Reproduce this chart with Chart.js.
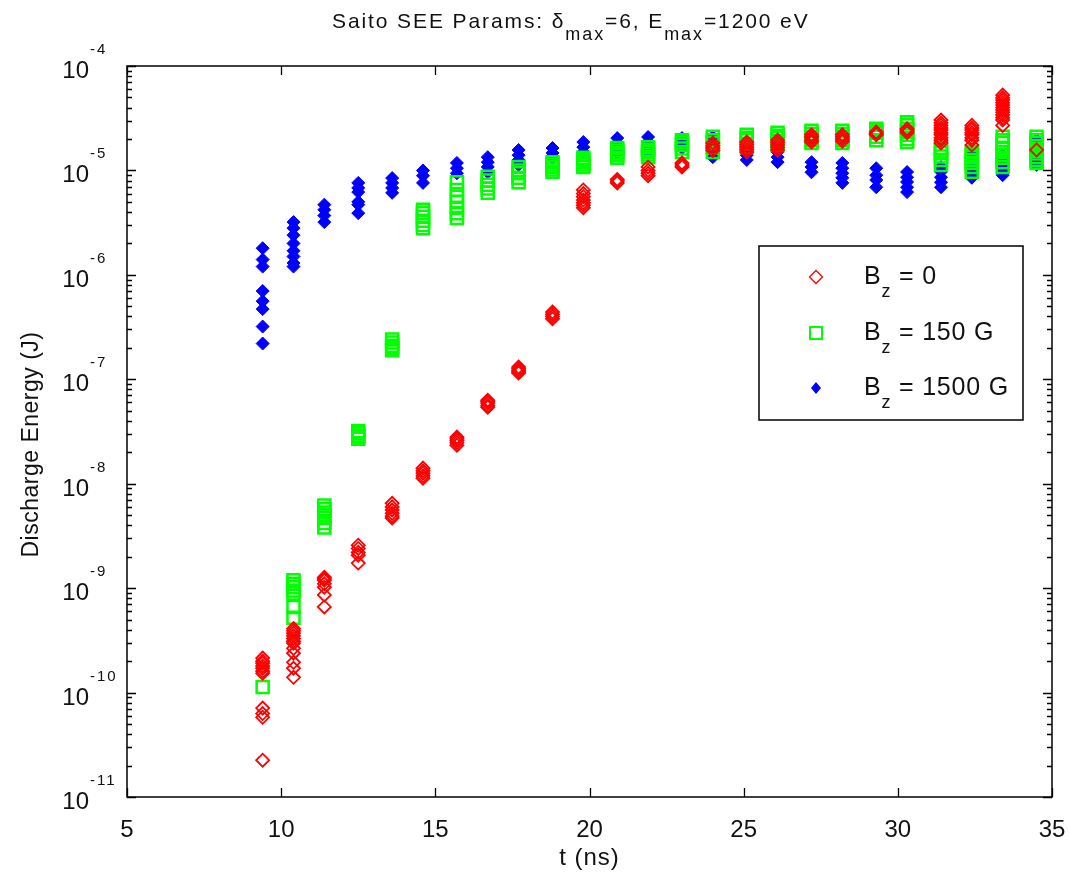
<!DOCTYPE html>
<html>
<head>
<meta charset="utf-8">
<script src="https://cdn.jsdelivr.net/npm/chart.js@4.4.0/dist/chart.umd.min.js"></script>
<style>
  html, body { margin: 0; padding: 0; background: #fff; }
  #wrap { position: relative; width: 1070px; height: 882px; }
</style>
</head>
<body>
<div id="wrap"><canvas id="chart"></canvas></div>
<script>
// t (ns) of each sample column
const times = [9.4, 10.4, 11.4, 12.5, 13.6, 14.6, 15.7, 16.7, 17.7, 18.8, 19.8, 20.9, 21.9,
               23.0, 24.0, 25.1, 26.1, 27.2, 28.2, 29.3, 30.3, 31.4, 32.4, 33.4, 34.5];

// discharge energy (J), one list of runs per time column
const energyBz0 = [
  [2.14e-10, 2.0e-10, 1.91e-10, 1.8e-10, 1.71e-10, 1.6e-10, 1.53e-10, 7.1e-11, 6.3e-11, 5.8e-11, 2.25e-11],
  [4.1e-10, 3.9e-10, 3.7e-10, 3.5e-10, 3.3e-10, 3.1e-10, 2.97e-10, 2.65e-10, 2.38e-10, 1.95e-10, 1.71e-10, 1.4e-10],
  [1.27e-9, 1.23e-9, 1.19e-9, 1.1e-9, 1.02e-9, 8.6e-10, 6.6e-10],
  [2.58e-9, 2.4e-9, 2.2e-9, 2.07e-9, 1.74e-9],
  [6.5e-9, 6.0e-9, 5.6e-9, 5.2e-9, 4.9e-9, 4.7e-9],
  [1.41e-8, 1.33e-8, 1.26e-8, 1.19e-8, 1.13e-8],
  [2.8e-8, 2.7e-8, 2.6e-8, 2.47e-8, 2.34e-8],
  [6.3e-8, 6.1e-8, 5.9e-8, 5.6e-8, 5.4e-8],
  [1.31e-7, 1.26e-7, 1.22e-7, 1.18e-7, 1.15e-7],
  [4.4e-7, 4.2e-7, 4.0e-7, 3.8e-7],
  [6.5e-6, 6.0e-6, 5.6e-6, 5.2e-6, 4.9e-6, 4.65e-6, 4.4e-6],
  [8.2e-6, 7.9e-6, 7.6e-6],
  [1.08e-5, 1.0e-5, 9.4e-6, 8.9e-6],
  [1.18e-5, 1.13e-5, 1.08e-5],
  [1.83e-5, 1.72e-5, 1.64e-5, 1.55e-5],
  [1.87e-5, 1.77e-5, 1.67e-5, 1.58e-5, 1.5e-5],
  [1.95e-5, 1.85e-5, 1.75e-5, 1.66e-5, 1.57e-5],
  [2.2e-5, 2.1e-5, 2.05e-5, 1.95e-5, 1.87e-5],
  [2.2e-5, 2.1e-5, 2.0e-5, 1.9e-5],
  [2.33e-5, 2.25e-5, 2.2e-5],
  [2.5e-5, 2.4e-5, 2.3e-5],
  [3.04e-5, 2.85e-5, 2.7e-5, 2.55e-5, 2.44e-5, 2.3e-5, 2.2e-5, 2.05e-5, 1.95e-5, 1.83e-5],
  [2.7e-5, 2.55e-5, 2.44e-5, 2.3e-5, 2.2e-5, 2.05e-5, 1.95e-5, 1.75e-5],
  [5.27e-5, 4.95e-5, 4.72e-5, 4.45e-5, 4.23e-5, 4.0e-5, 3.8e-5, 3.6e-5, 3.4e-5, 3.2e-5, 3.04e-5, 2.7e-5],
  [1.57e-5]
];
const energyBz150 = [
  [1.13e-10],
  [1.19e-9, 1.1e-9, 1.02e-9, 9.5e-10, 8.9e-10, 6.6e-10, 5.2e-10],
  [6.2e-9, 5.7e-9, 5.3e-9, 5.0e-9, 4.7e-9, 4.2e-9, 3.8e-9],
  [3.2e-8, 3.05e-8, 2.9e-8, 2.8e-8, 2.7e-8],
  [2.4e-7, 2.25e-7, 2.1e-7, 2.0e-7, 1.9e-7],
  [4.2e-6, 3.9e-6, 3.6e-6, 3.3e-6, 3.0e-6, 2.8e-6],
  [7.7e-6, 6.5e-6, 5.6e-6, 5.0e-6, 4.4e-6, 3.9e-6, 3.5e-6],
  [8.7e-6, 8.0e-6, 7.3e-6, 6.7e-6, 6.1e-6],
  [1.08e-5, 1.0e-5, 9.4e-6, 8.5e-6, 7.7e-6],
  [1.2e-5, 1.14e-5, 1.08e-5, 1.02e-5, 9.7e-6],
  [1.32e-5, 1.26e-5, 1.2e-5, 1.14e-5, 1.08e-5],
  [1.64e-5, 1.55e-5, 1.47e-5, 1.4e-5, 1.32e-5],
  [1.67e-5, 1.58e-5, 1.5e-5, 1.42e-5, 1.34e-5],
  [1.95e-5, 1.85e-5, 1.75e-5, 1.62e-5, 1.5e-5],
  [2.1e-5, 1.95e-5, 1.83e-5, 1.65e-5, 1.5e-5],
  [2.2e-5, 2.05e-5, 1.95e-5, 1.8e-5, 1.67e-5],
  [2.3e-5, 2.15e-5, 2.04e-5, 1.9e-5, 1.75e-5],
  [2.4e-5, 2.25e-5, 2.1e-5, 1.95e-5, 1.83e-5],
  [2.4e-5, 2.25e-5, 2.1e-5, 1.95e-5, 1.83e-5],
  [2.5e-5, 2.4e-5, 2.3e-5, 2.1e-5, 1.95e-5],
  [2.9e-5, 2.7e-5, 2.5e-5, 2.35e-5, 2.2e-5, 2.0e-5, 1.87e-5],
  [1.64e-5, 1.55e-5, 1.47e-5, 1.36e-5, 1.26e-5, 1.13e-5],
  [1.5e-5, 1.42e-5, 1.34e-5, 1.25e-5, 1.18e-5, 1.08e-5, 9.7e-6],
  [2.1e-5, 1.95e-5, 1.83e-5, 1.65e-5, 1.5e-5, 1.4e-5, 1.32e-5, 1.2e-5, 1.08e-5],
  [2.1e-5, 1.95e-5, 1.83e-5, 1.7e-5, 1.57e-5, 1.45e-5, 1.34e-5, 1.25e-5, 1.18e-5]
];
const energyBz1500 = [
  [1.8e-6, 1.4e-6, 1.2e-6, 7.0e-7, 5.6e-7, 4.7e-7, 3.2e-7, 2.2e-7],
  [3.2e-6, 2.8e-6, 2.4e-6, 2.0e-6, 1.7e-6, 1.5e-6, 1.3e-6, 1.2e-6],
  [4.7e-6, 4.2e-6, 3.7e-6, 3.2e-6],
  [7.6e-6, 6.8e-6, 6.2e-6, 5.0e-6, 4.7e-6, 3.9e-6],
  [8.45e-6, 7.6e-6, 6.8e-6, 6.1e-6],
  [1.0e-5, 8.9e-6, 7.6e-6],
  [1.18e-5, 1.05e-5, 9.4e-6],
  [1.34e-5, 1.2e-5, 1.08e-5, 9.6e-6],
  [1.57e-5, 1.4e-5, 1.26e-5, 1.13e-5],
  [1.64e-5, 1.47e-5, 1.32e-5],
  [1.87e-5, 1.67e-5, 1.5e-5],
  [2.04e-5, 1.83e-5, 1.64e-5, 1.47e-5],
  [2.09e-5, 1.87e-5, 1.67e-5, 1.5e-5],
  [2.04e-5, 1.83e-5, 1.64e-5],
  [2.09e-5, 1.83e-5, 1.57e-5, 1.34e-5],
  [1.57e-5, 1.4e-5, 1.26e-5],
  [1.5e-5, 1.34e-5, 1.2e-5],
  [1.2e-5, 1.08e-5, 9.6e-6],
  [1.18e-5, 1.05e-5, 9.4e-6, 8.5e-6, 7.6e-6],
  [1.05e-5, 9.0e-6, 8.1e-6, 6.9e-6],
  [9.66e-6, 8.6e-6, 7.75e-6, 6.9e-6, 6.2e-6],
  [1.08e-5, 9.7e-6, 8.6e-6, 7.7e-6, 6.9e-6],
  [1.47e-5, 1.32e-5, 1.18e-5, 1.05e-5, 9.4e-6, 8.5e-6],
  [1.4e-5, 1.26e-5, 1.13e-5, 1.01e-5, 9.0e-6],
  [1.95e-5, 1.75e-5, 1.57e-5, 1.4e-5, 1.26e-5, 1.13e-5]
];

const xTicks = [5, 10, 15, 20, 25, 30, 35];
const yExponents = [-4, -5, -6, -7, -8, -9, -10, -11];
const legendLabels = [['B', 'z', ' = 0'], ['B', 'z', ' = 150 G'], ['B', 'z', ' = 1500 G']];

const FONT = '"Liberation Sans", Arial, Helvetica, sans-serif';

// flatten columns into scatter points
function toPoints(cols) {
    return cols.flatMap((vals, i) => vals.map(v => ({ x: times[i], y: v })));
}

// draw a run of text pieces with optional vertical offset (sub/superscripts)
function drawRich(ctx, parts, x, y, spacing) {
    ctx.textAlign = 'left';
    ctx.textBaseline = 'alphabetic';
    ctx.letterSpacing = (spacing || 0) + 'px';
    parts.forEach(p => {
        ctx.font = p.size + 'px ' + FONT;
        ctx.fillText(p.t, x, y + (p.dy || 0));
        x += ctx.measureText(p.t).width;
    });
    ctx.letterSpacing = '0px';
}

function marker(ctx, kind, x, y) {
    ctx.save();
    ctx.beginPath();
    if (kind === 0) {
        ctx.strokeStyle = '#ff0000'; ctx.lineWidth = 1.3;
        ctx.moveTo(x, y - 6.5); ctx.lineTo(x + 6.5, y); ctx.lineTo(x, y + 6.5); ctx.lineTo(x - 6.5, y); ctx.closePath();
        ctx.stroke();
    } else if (kind === 1) {
        ctx.strokeStyle = '#00ff00'; ctx.lineWidth = 2;
        ctx.rect(x - 6, y - 6, 12, 12);
        ctx.stroke();
    } else {
        ctx.fillStyle = '#0000ff';
        ctx.moveTo(x, y - 6); ctx.lineTo(x + 5, y); ctx.lineTo(x, y + 6); ctx.lineTo(x - 5, y); ctx.closePath();
        ctx.fill();
    }
    ctx.restore();
}

const frame = {
    id: 'frame',
    afterDatasetsDraw(chart) {
        const { ctx, chartArea: a, scales: { x, y } } = chart;
        ctx.save();
        ctx.fillStyle = '#000';
        ctx.strokeStyle = '#000';
        ctx.lineWidth = 1.5;
        ctx.strokeRect(a.left, a.top, a.right - a.left, a.bottom - a.top);

        // x ticks, inward top and bottom
        ctx.lineWidth = 1.3;
        ctx.beginPath();
        xTicks.forEach(v => {
            const px = Math.round(x.getPixelForValue(v)) + 0.5;
            ctx.moveTo(px, a.bottom); ctx.lineTo(px, a.bottom - 9);
            ctx.moveTo(px, a.top); ctx.lineTo(px, a.top + 9);
        });
        // y ticks, major and minor, inward left and right
        yExponents.forEach(e => {
            const py = Math.round(y.getPixelForValue(Math.pow(10, e))) + 0.5;
            ctx.moveTo(a.left, py); ctx.lineTo(a.left + 9, py);
            ctx.moveTo(a.right, py); ctx.lineTo(a.right - 9, py);
            if (e > -11) {
                for (let m = 2; m <= 9; m++) {
                    const pm = Math.round(y.getPixelForValue(m * Math.pow(10, e - 1))) + 0.5;
                    ctx.moveTo(a.left, pm); ctx.lineTo(a.left + 5, pm);
                    ctx.moveTo(a.right, pm); ctx.lineTo(a.right - 5, pm);
                }
            }
        });
        ctx.stroke();

        // tick labels
        ctx.fillStyle = '#111';
        ctx.font = '24px ' + FONT;
        ctx.textAlign = 'center';
        ctx.textBaseline = 'alphabetic';
        xTicks.forEach(v => ctx.fillText(String(v), x.getPixelForValue(v), a.bottom + 40));
        yExponents.forEach(e => {
            const py = y.getPixelForValue(Math.pow(10, e));
            ctx.font = '24px ' + FONT;
            ctx.textAlign = 'right';
            ctx.fillText('10', a.left - 38, py + 12);
            ctx.font = '15px ' + FONT;
            ctx.textAlign = 'left';
            ctx.letterSpacing = '2px';
            ctx.fillText('-' + Math.abs(e), a.left - 37, py - 12);
            ctx.letterSpacing = '0px';
        });

        // axis titles
        ctx.font = '24px ' + FONT;
        ctx.textAlign = 'center';
        ctx.letterSpacing = '1px';
        ctx.fillText('t (ns)', (a.left + a.right) / 2, a.bottom + 68);
        ctx.save();
        ctx.translate(38, (a.top + a.bottom) / 2 + 13);
        ctx.rotate(-Math.PI / 2);
        ctx.font = '23px ' + FONT;
        ctx.letterSpacing = '0.5px';
        ctx.fillText('Discharge Energy (J)', 0, 0);
        ctx.restore();
        ctx.letterSpacing = '0px';

        // title with subscripts
        drawRich(ctx, [
            { t: 'Saito SEE Params: δ', size: 21 },
            { t: 'max', size: 18, dy: 12 },
            { t: '=6, E', size: 21 },
            { t: 'max', size: 18, dy: 12 },
            { t: '=1200 eV', size: 21 }
        ], 332, 28, 1.9);

        // legend
        const lx = 759, ly = 246, lw = 264, lh = 174;
        ctx.fillStyle = '#fff';
        ctx.fillRect(lx, ly, lw, lh);
        ctx.lineWidth = 1.5;
        ctx.strokeRect(lx, ly, lw, lh);
        const rows = [277, 333, 388];
        legendLabels.forEach((lab, i) => {
            marker(ctx, i, 816, rows[i]);
            ctx.fillStyle = '#111';
            drawRich(ctx, [
                { t: lab[0], size: 25 },
                { t: lab[1], size: 18, dy: 13 },
                { t: lab[2], size: 25 }
            ], 864, rows[i] + 7, 0.8);
        });
        ctx.restore();
    }
};

new Chart(document.getElementById('chart'), {
    type: 'scatter',
    data: {
        datasets: [
            { label: 'Bz = 0', data: toPoints(energyBz0), pointStyle: 'rectRot', pointRadius: 6.5,
              borderColor: '#ff0000', backgroundColor: 'rgba(0,0,0,0)', borderWidth: 1.8 },
            { label: 'Bz = 150 G', data: toPoints(energyBz150), pointStyle: 'rect', pointRadius: 8.5,
              borderColor: '#00ff00', backgroundColor: 'rgba(0,0,0,0)', borderWidth: 2.5 },
            { label: 'Bz = 1500 G', data: toPoints(energyBz1500), pointStyle: 'rectRot', pointRadius: 6.5,
              borderColor: '#0000ff', backgroundColor: '#0000ff', borderWidth: 1 }
        ]
    },
    options: {
        responsive: true,
        maintainAspectRatio: false,
        animation: false,
        events: [],
        layout: { padding: { left: 127, top: 66, right: 18, bottom: 85 } },
        plugins: { legend: { display: false }, tooltip: { enabled: false }, title: { display: false } },
        scales: {
            x: { type: 'linear', min: 5, max: 35, display: false },
            y: { type: 'logarithmic', min: 1e-11, max: 1e-4, display: false }
        }
    },
    plugins: [frame]
});
</script>
</body>
</html>
